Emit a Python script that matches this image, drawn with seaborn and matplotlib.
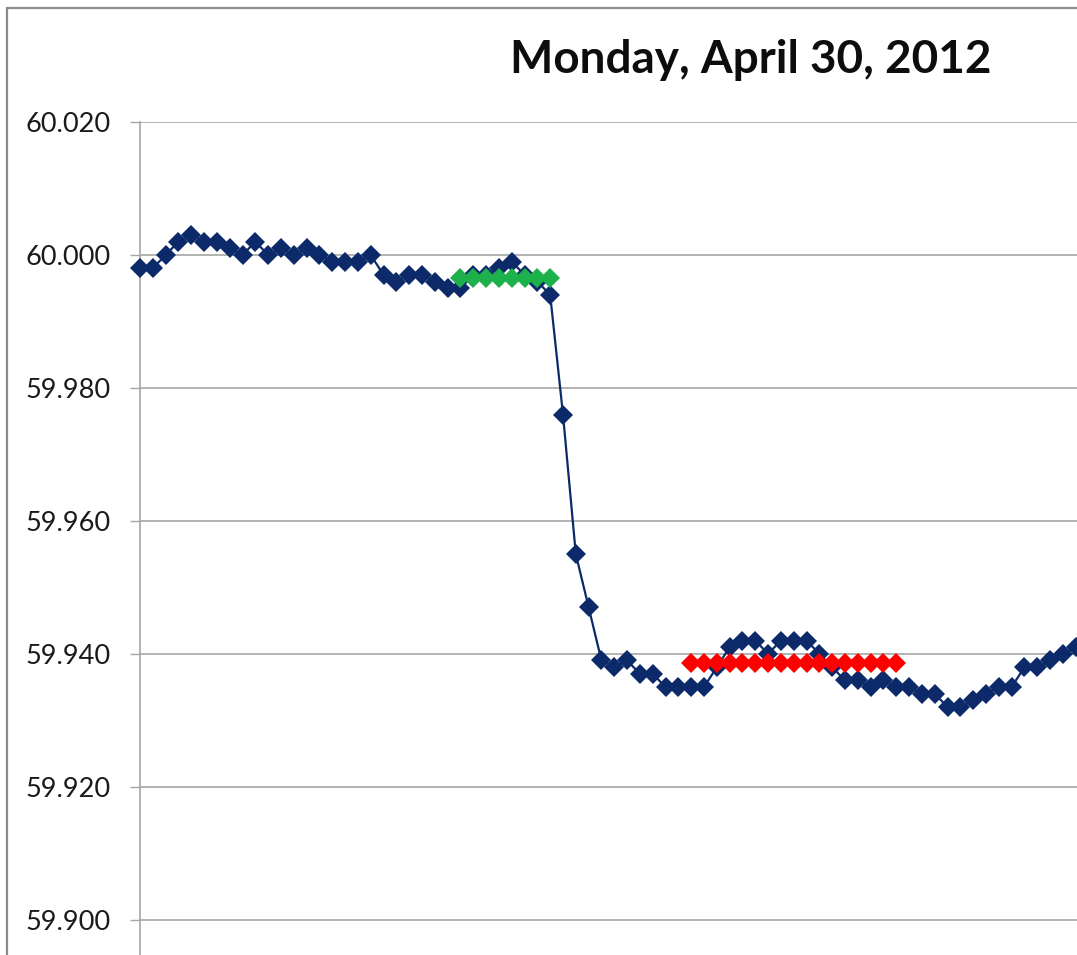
import numpy as np
import pandas as pd
import seaborn as sns
import matplotlib.pyplot as plt
from matplotlib.patches import Rectangle

# frequency samples (Hz)
freq = [59.998, 59.998, 60.000, 60.002, 60.003, 60.002, 60.002, 60.001, 60.000, 60.002,
        60.000, 60.001, 60.000, 60.001, 60.000, 59.999, 59.999, 59.999, 60.000, 59.997,
        59.996, 59.997, 59.997, 59.996, 59.995, 59.995, 59.997, 59.997, 59.998, 59.999,
        59.997, 59.996, 59.994, 59.976, 59.955, 59.947, 59.939, 59.938, 59.939, 59.937,
        59.937, 59.935, 59.935, 59.935, 59.935, 59.938, 59.941, 59.942, 59.942, 59.940,
        59.942, 59.942, 59.942, 59.940, 59.938, 59.936, 59.936, 59.935, 59.936, 59.935,
        59.935, 59.934, 59.934, 59.932, 59.932, 59.933, 59.934, 59.935, 59.935, 59.938,
        59.938, 59.939, 59.940, 59.941]

# pre-event average (green) and post-event average (red)
green_idx = list(range(25, 33))
green_val = [59.9966] * len(green_idx)
red_idx = list(range(43, 60))
red_val = [59.9386] * len(red_idx)

yticks = [59.900, 59.920, 59.940, 59.960, 59.980, 60.000, 60.020]
title = "Monday, April 30, 2012"

df = pd.DataFrame({"t": range(len(freq)), "f": freq})
dg = pd.DataFrame({"t": green_idx, "f": green_val})
dr = pd.DataFrame({"t": red_idx, "f": red_val})

sns.set_style("white")
plt.rcParams['font.family'] = ['Lato', 'DejaVu Sans']

W, H = 1077, 955
fig = plt.figure(figsize=(W / 100, H / 100), dpi=100)
ax = fig.add_axes([140 / W, 0, (W - 140) / W, (H - 122) / H])

sns.lineplot(data=df, x="t", y="f", ax=ax, color="#0c2a6a", marker="D",
             markersize=10, markeredgewidth=0, linewidth=1.6, clip_on=False, zorder=3)
sns.lineplot(data=dg, x="t", y="f", ax=ax, color="#1db14b", marker="D",
             markersize=10, markeredgewidth=0, linewidth=1.6, clip_on=False, zorder=4)
sns.lineplot(data=dr, x="t", y="f", ax=ax, color="#fe0000", marker="D",
             markersize=10, markeredgewidth=0, linewidth=1.6, clip_on=False, zorder=4)

ax.set_xlim(0, 73.1)
ax.set_ylim(59.8947, 60.020)
ax.set_yticks(yticks)
ax.set_yticklabels([f"{v:.3f}" for v in yticks], fontsize=19.5, color="#1a1a1a")
ax.set_xticks([])
ax.set_xlabel("")
ax.set_ylabel("")
ax.grid(axis="y", color="#a6a6a6", linewidth=1.2)
ax.set_axisbelow(True)
for s in ["top", "right", "bottom"]:
    ax.spines[s].set_visible(False)
ax.spines["left"].set_color("#a6a6a6")
ax.spines["left"].set_linewidth(1.2)
ax.tick_params(axis="y", direction="out", length=7, width=1.0, color="#a6a6a6", pad=14, left=True)

# chart area border (cropped at right/bottom)
fig.add_artist(Rectangle((7 / W, -0.1), 1.2, (H - 8) / H + 0.1, transform=fig.transFigure,
                         fill=False, edgecolor="#8c8c8c", linewidth=1.6))

fig.text(751 / W, 1 - 60 / H, title, ha="center", va="center", fontsize=33,
         fontweight="bold", color="#0d0d0d")

fig.savefig("out.png", dpi=100)
